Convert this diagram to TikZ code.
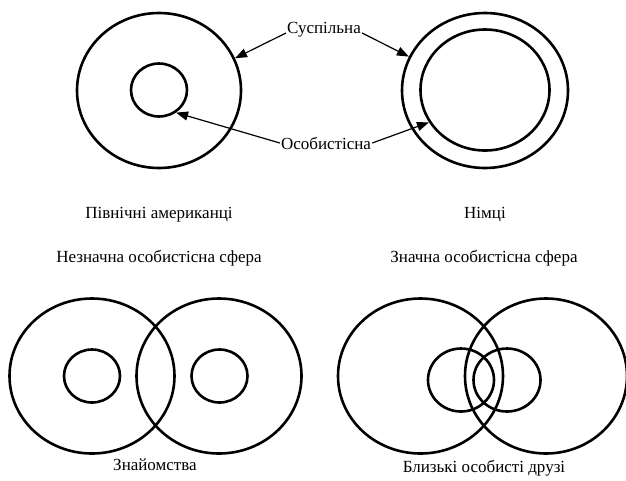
\documentclass[tikz,border=0pt]{standalone}
\usepackage{fontspec}
\setmainfont{Liberation Serif}
\usetikzlibrary{shapes.geometric,arrows.meta}
\tikzset{
  ring/.style={ellipse, draw, line width=2.6pt, inner sep=0pt},
  lbl/.style={font=\fontsize{17}{19}\selectfont, anchor=base, inner sep=1pt},
  ptr/.style={line width=1.2pt, -{Triangle[length=12pt,width=9pt]}}
}
\begin{document}
\begin{tikzpicture}[x=1pt,y=-1pt]
\useasboundingbox (0,0) rectangle (626,480);
% top left
\node[ring, minimum width=164pt, minimum height=155pt] (na) at (159,90.5) {};
\node[ring, minimum width=56pt, minimum height=53pt] (nai) at (159,90) {};
% top right
\node[ring, minimum width=166pt, minimum height=155pt] (de) at (485,90.5) {};
\node[ring, minimum width=129pt, minimum height=121pt] (dei) at (485,90) {};
% labels with arrows
\node[lbl] (soc) at (324,33) {Суспільна};
\node[lbl] (pers) at (326,149) {Особистісна};
\draw[ptr] (soc.base west) -- (na.23.5);
\draw[ptr] (soc.base east) -- (de.156.5);
\draw[ptr] (pers.west) -- (nai.-53.5);
\draw[ptr] (pers.east) -- (dei.-150);
\node[lbl] (t1) at (159,218) {Північні американці};
\node[lbl] (t2) at (485,218) {Німці};
\node[lbl] (t3) at (159,262) {Незначна особистісна сфера};
\node[lbl] (t4) at (484,262) {Значна особистісна сфера};
% bottom left
\node[ring, minimum width=165pt, minimum height=155pt] (a1) at (92,376) {};
\node[ring, minimum width=165pt, minimum height=155pt] (a2) at (219,376) {};
\node[ring, minimum width=56pt, minimum height=53pt] (a1i) at (92,376) {};
\node[ring, minimum width=56pt, minimum height=53pt] (a2i) at (219.5,376) {};
\node[lbl] (t5) at (155,470) {Знайомства};
% bottom right
\node[ring, minimum width=165pt, minimum height=155pt] (f1) at (420.5,376) {};
\node[ring, minimum width=162pt, minimum height=155pt] (f2) at (546,376) {};
\node[ring, minimum width=66pt, minimum height=63pt] (f1i) at (461,380) {};
\node[ring, minimum width=67pt, minimum height=63pt] (f2i) at (507,380) {};
\node[lbl] (t6) at (484,472) {Близькі особисті друзі};
\end{tikzpicture}
\end{document}
